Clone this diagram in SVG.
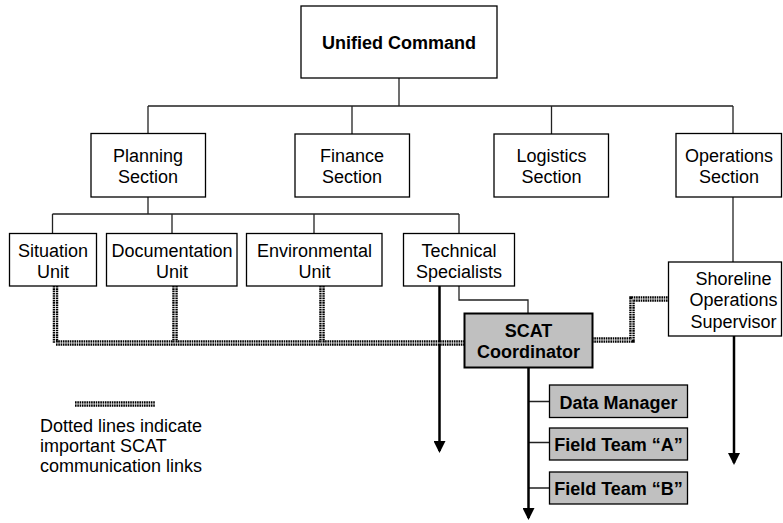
<svg xmlns="http://www.w3.org/2000/svg" width="783" height="523" viewBox="0 0 783 523">
<style>
.box{fill:#fff;stroke:#000;stroke-width:1.3}
.gbox{fill:#c0c0c0;stroke:#000;stroke-width:2}
.t{font-family:"Liberation Sans",Arial,sans-serif;font-size:18px;fill:#000;text-anchor:middle}
.b{font-weight:bold}
.lg{text-anchor:start}
.thin{fill:none;stroke:#222;stroke-width:1.3}
.thick{fill:none;stroke:#000;stroke-width:2.5}
.dot{fill:none;stroke:#000;stroke-width:5.5;stroke-dasharray:1.6 0.7}
.dotc{fill:none;stroke:#fff;stroke-width:0.8}
</style>
<defs>
<marker id="ah" viewBox="0 0 12 12" refX="10" refY="6" markerWidth="12" markerHeight="12" markerUnits="userSpaceOnUse" orient="auto">
<path d="M0 0 L12 6 L0 12 z" fill="#000"/>
</marker>
</defs>
<rect width="783" height="523" fill="#fff"/>
<g id="connectors">
<path class="thin" d="M399 78 V106 M148 106 H733 M148 106 V133 M352 106 V134 M551.5 106 V134 M733 106 V133"/>
<path class="thin" d="M148 197 V214 M52.5 214 H459 M52.5 214 V233 M172 214 V233 M314 214 V233 M459 214 V233"/>
<path class="thin" d="M733 197 V262"/>
<path class="thin" d="M459 286 V300 H528 V313"/>
<path class="thin" d="M528 401.5 H549 M528 442.5 H549 M528 488 H549"/>
<path class="thick" d="M439.5 286 V451" marker-end="url(#ah)"/>
<path class="thick" d="M528.5 367 V518" marker-end="url(#ah)"/>
<path class="thick" d="M734 336 V463" marker-end="url(#ah)"/>
<path class="dot" d="M55.5 286 V343 H464"/>
<path class="dot" d="M175 286 V343"/>
<path class="dot" d="M322 286 V343"/>
<path class="dot" d="M592 340 H632 V299 H668"/>
<path class="dot" d="M75 404 H155"/>
<path class="dotc" d="M55.5 286 V343 H464 M175 286 V343 M322 286 V343 M592 340 H632 V299 H668 M75 404 H155"/>
</g>
<g id="unified"><rect class="box" x="301" y="6" width="196" height="72"/><text class="t b" x="399" y="48.5">Unified Command</text></g>
<g id="planning"><rect class="box" x="91" y="133.5" width="114.5" height="63.5"/><text class="t" x="148" y="161.5">Planning</text><text class="t" x="148" y="183">Section</text></g>
<g id="finance"><rect class="box" x="295" y="134" width="114.5" height="63"/><text class="t" x="352" y="161.5">Finance</text><text class="t" x="352" y="183">Section</text></g>
<g id="logistics"><rect class="box" x="494" y="134" width="114.5" height="63"/><text class="t" x="551.5" y="161.5">Logistics</text><text class="t" x="551.5" y="183">Section</text></g>
<g id="operations"><rect class="box" x="676" y="133.5" width="105.5" height="63.5"/><text class="t" x="729" y="161.5">Operations</text><text class="t" x="729" y="183">Section</text></g>
<g id="situation"><rect class="box" x="9.5" y="233.5" width="87" height="52.5"/><text class="t" x="53" y="256.5">Situation</text><text class="t" x="53" y="278">Unit</text></g>
<g id="documentation"><rect class="box" x="106.5" y="233.5" width="130.5" height="52.5"/><text class="t" x="172" y="256.5">Documentation</text><text class="t" x="172" y="278">Unit</text></g>
<g id="environmental"><rect class="box" x="246.5" y="233.5" width="135.5" height="52.5"/><text class="t" x="314.5" y="256.5">Environmental</text><text class="t" x="314.5" y="278">Unit</text></g>
<g id="technical"><rect class="box" x="403.5" y="233.5" width="111" height="52.5"/><text class="t" x="459" y="256.5">Technical</text><text class="t" x="459" y="278">Specialists</text></g>
<g id="shoreline"><rect class="box" x="668.5" y="262" width="113" height="74"/><text class="t" x="733.5" y="284.5">Shoreline</text><text class="t" x="733.5" y="306">Operations</text><text class="t" x="733.5" y="328">Supervisor</text></g>
<g id="scat"><rect class="gbox" x="464.5" y="313.5" width="128" height="54"/><text class="t b" x="528.5" y="336.5">SCAT</text><text class="t b" x="528.5" y="357.5">Coordinator</text></g>
<g id="datamanager"><rect class="box" x="549.5" y="385" width="138" height="32.5" style="fill:#c0c0c0"/><text class="t b" x="618.5" y="409">Data Manager</text></g>
<g id="fieldA"><rect class="box" x="549.5" y="428" width="138" height="32" style="fill:#c0c0c0"/><text class="t b" x="618.5" y="451">Field Team “A”</text></g>
<g id="fieldB"><rect class="box" x="549.5" y="472" width="138" height="32" style="fill:#c0c0c0"/><text class="t b" x="618.5" y="494.5">Field Team “B”</text></g>
<g id="legend"><text class="t lg" x="40" y="432">Dotted lines indicate</text><text class="t lg" x="40" y="452">important SCAT</text><text class="t lg" x="40" y="472">communication links</text></g>
</svg>
